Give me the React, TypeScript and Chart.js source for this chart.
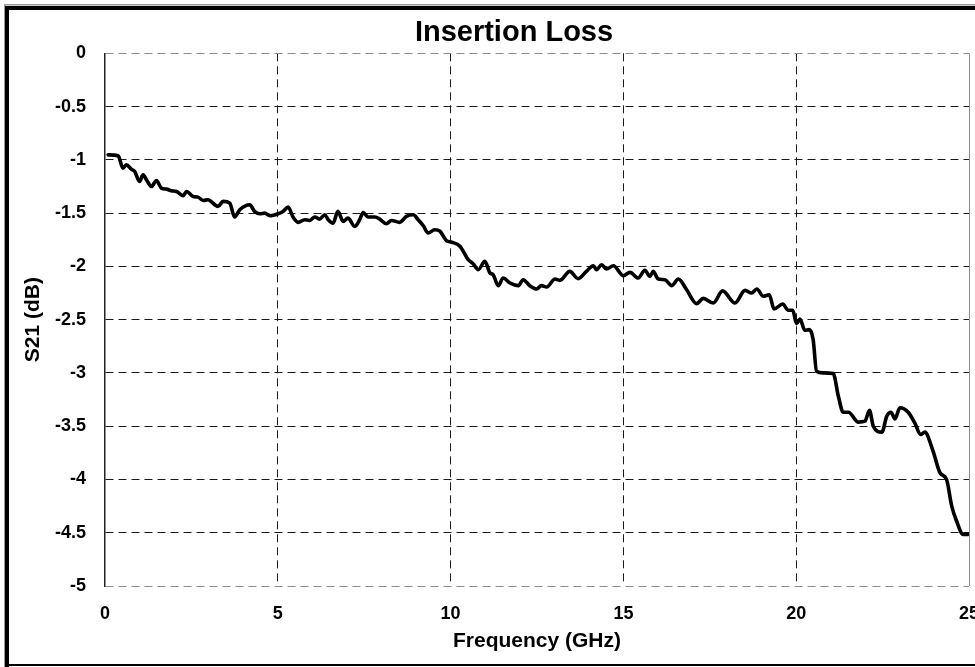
import React, { useEffect, useRef } from "react";
import { Chart, registerables } from "chart.js";

Chart.register(...registerables);

const frequencyGHz = [
  0.09, 0.38, 0.52, 0.62, 0.76, 0.86, 1.0, 1.1, 1.2, 1.34, 1.49, 1.63, 1.78, 1.92, 2.07, 2.26, 2.36, 2.55, 2.69, 2.84,
  2.98, 3.27, 3.42, 3.61, 3.75, 3.9, 4.19, 4.33, 4.48, 4.62, 4.77, 5.01, 5.15, 5.3, 5.44, 5.59, 5.78, 5.92, 6.07, 6.21,
  6.36, 6.46, 6.6, 6.74, 6.89, 7.03, 7.23, 7.37, 7.47, 7.61, 7.81, 7.95, 8.14, 8.29, 8.53, 8.72, 8.92, 9.06, 9.21, 9.35,
  9.54, 9.69, 9.88, 10.03, 10.27, 10.51, 10.65, 10.8, 10.99, 11.14, 11.23, 11.38, 11.52, 11.72, 11.96, 12.1, 12.29,
  12.49, 12.63, 12.78, 13.02, 13.16, 13.45, 13.69, 13.93, 14.13, 14.22, 14.37, 14.51, 14.71, 15.0, 15.19, 15.43, 15.62,
  15.77, 15.86, 16.01, 16.2, 16.4, 16.59, 16.83, 17.12, 17.31, 17.6, 17.87, 18.23, 18.52, 18.71, 18.86, 19.05, 19.22,
  19.36, 19.61, 19.77, 19.9, 20.01, 20.11, 20.25, 20.38, 20.49, 20.59, 20.78, 21.07, 21.22, 21.36, 21.51, 21.8, 21.99,
  22.12, 22.23, 22.48, 22.62, 22.74, 22.86, 23.0, 23.24, 23.43, 23.6, 23.72, 23.96, 24.16, 24.35, 24.5, 24.64, 24.83,
  24.98,
];

const s21dB = [
  -0.953, -0.962, -1.078, -1.047, -1.087, -1.11, -1.203, -1.14, -1.187, -1.25, -1.194, -1.266, -1.275, -1.29, -1.297,
  -1.337, -1.297, -1.344, -1.35, -1.381, -1.375, -1.437, -1.39, -1.406, -1.537, -1.469, -1.422, -1.484, -1.506, -1.5,
  -1.525, -1.506, -1.484, -1.444, -1.537, -1.587, -1.562, -1.569, -1.537, -1.556, -1.516, -1.562, -1.594, -1.484,
  -1.578, -1.547, -1.625, -1.562, -1.494, -1.537, -1.537, -1.556, -1.6, -1.569, -1.587, -1.531, -1.516, -1.562, -1.619,
  -1.687, -1.656, -1.67, -1.758, -1.773, -1.81, -1.937, -1.975, -2.031, -1.953, -2.062, -2.078, -2.181, -2.109, -2.156,
  -2.181, -2.125, -2.181, -2.212, -2.181, -2.194, -2.119, -2.131, -2.047, -2.115, -2.047, -1.994, -2.031, -1.984,
  -2.025, -1.994, -2.087, -2.056, -2.109, -2.037, -2.094, -2.047, -2.119, -2.125, -2.181, -2.119, -2.219, -2.35, -2.3,
  -2.344, -2.23, -2.344, -2.225, -2.25, -2.212, -2.281, -2.266, -2.4, -2.353, -2.412, -2.412, -2.537, -2.494, -2.6,
  -2.594, -2.687, -2.984, -3.0, -3.006, -3.219, -3.369, -3.369, -3.462, -3.453, -3.35, -3.5, -3.556, -3.406, -3.369,
  -3.431, -3.327, -3.369, -3.469, -3.578, -3.556, -3.734, -3.937, -4.0, -4.25, -4.39, -4.515, -4.515,
];

const chartTitle = "Insertion Loss";
const xAxisTitle = "Frequency (GHz)";
const yAxisTitle = "S21 (dB)";
const xTicks = { min: 0, max: 25, step: 5 };
const yTicks = { min: -5, max: 0, step: 0.5 };

const FONT = "'Liberation Sans', Arial, Helvetica, sans-serif";

const framePlugin = {
  id: "frame",
  beforeDraw(chart: any) {
    const ctx = chart.ctx;
    const w = chart.width;
    const h = chart.height;
    ctx.save();
    ctx.fillStyle = "#ffffff";
    ctx.fillRect(0, 0, w, h);
    ctx.fillStyle = "#9a9a9a";
    ctx.fillRect(4, 4, w - 4, 1.5);
    ctx.fillRect(4, 4, 1.5, h - 4);
    ctx.fillStyle = "#000000";
    ctx.fillRect(5, 6, w - 5, 4);
    ctx.fillRect(5, 6, 4, h - 6);
    ctx.fillRect(5, h - 3, w - 5, 2);
    ctx.restore();
  },
};

const fmt = (v: any) => String(Math.round(Number(v) * 10) / 10);

export default function App() {
  const canvasRef = useRef<HTMLCanvasElement | null>(null);

  useEffect(() => {
    document.body.style.margin = "0";
    const canvas = canvasRef.current;
    if (!canvas) return;
    const points = frequencyGHz.map((f, i) => ({ x: f, y: s21dB[i] }));
    const chart = new Chart(canvas, {
      type: "line",
      data: {
        datasets: [
          {
            label: yAxisTitle,
            data: points,
            borderColor: "#000000",
            borderWidth: 3.6,
            pointRadius: 0,
            fill: false,
            cubicInterpolationMode: "monotone",
            borderCapStyle: "round",
            borderJoinStyle: "round",
          },
        ],
      },
      options: {
        animation: false,
        responsive: true,
        maintainAspectRatio: false,
        layout: { padding: { left: 13, right: -40, top: 0, bottom: 0 } },
        plugins: {
          legend: { display: false },
          tooltip: { enabled: false },
          title: {
            display: true,
            text: chartTitle,
            color: "#000000",
            font: { family: FONT, size: 29, weight: "bold", lineHeight: 1.2 },
            padding: { top: 15.6, bottom: 2.9 },
          },
        },
        scales: {
          x: {
            type: "linear",
            min: xTicks.min,
            max: xTicks.max,
            afterFit: (scale: any) => {
              scale.height = 81;
              scale.paddingLeft = 0;
              scale.paddingRight = 6;
            },
            ticks: {
              stepSize: xTicks.step,
              color: "#000000",
              padding: 17,
              maxRotation: 0,
              callback: fmt,
              font: { family: FONT, size: 18, weight: "bold" },
            },
            grid: {
              drawTicks: false,
              lineWidth: 1,
              color: (ctx: any) => {
                const v = ctx.tick ? ctx.tick.value : null;
                if (v === xTicks.min) return "rgba(0,0,0,0)";
                if (v === xTicks.max) return "#8c8c8c";
                return "#1a1a1a";
              },
            },
            border: {
              display: false,
              dash: (ctx: any) => {
                const v = ctx.tick ? ctx.tick.value : null;
                if (v === xTicks.max || v === null) return [];
                return [8, 5];
              },
            },
            title: {
              display: true,
              text: xAxisTitle,
              color: "#000000",
              font: { family: FONT, size: 21, weight: "bold", lineHeight: 1.2 },
              padding: { top: 0, bottom: 13.4 },
            },
          },
          y: {
            type: "linear",
            min: yTicks.min,
            max: yTicks.max,
            afterFit: (scale: any) => {
              scale.width = 92;
              scale.paddingTop = 0;
              scale.paddingBottom = 0;
            },
            ticks: {
              stepSize: yTicks.step,
              color: "#000000",
              padding: 19,
              callback: fmt,
              font: { family: FONT, size: 18, weight: "bold" },
            },
            grid: {
              drawTicks: false,
              lineWidth: 1,
              color: (ctx: any) => {
                const v = ctx.tick ? ctx.tick.value : null;
                if (v === yTicks.min || v === yTicks.max) return "#8c8c8c";
                return "#1a1a1a";
              },
            },
            border: {
              display: true,
              color: "#222222",
              width: 1.5,
              dash: (ctx: any) => {
                if (!ctx.tick) return [];
                return [8, 5];
              },
            },
            title: {
              display: true,
              text: yAxisTitle,
              color: "#000000",
              font: { family: FONT, size: 21, weight: "bold", lineHeight: 1.2 },
              padding: { top: 7.4, bottom: 0 },
            },
          },
        },
      },
      plugins: [framePlugin],
    });
    return () => chart.destroy();
  }, []);

  return (
    <div style={{ position: "absolute", left: 0, top: 0, width: 975, height: 667 }}>
      <canvas ref={canvasRef} />
    </div>
  );
}
